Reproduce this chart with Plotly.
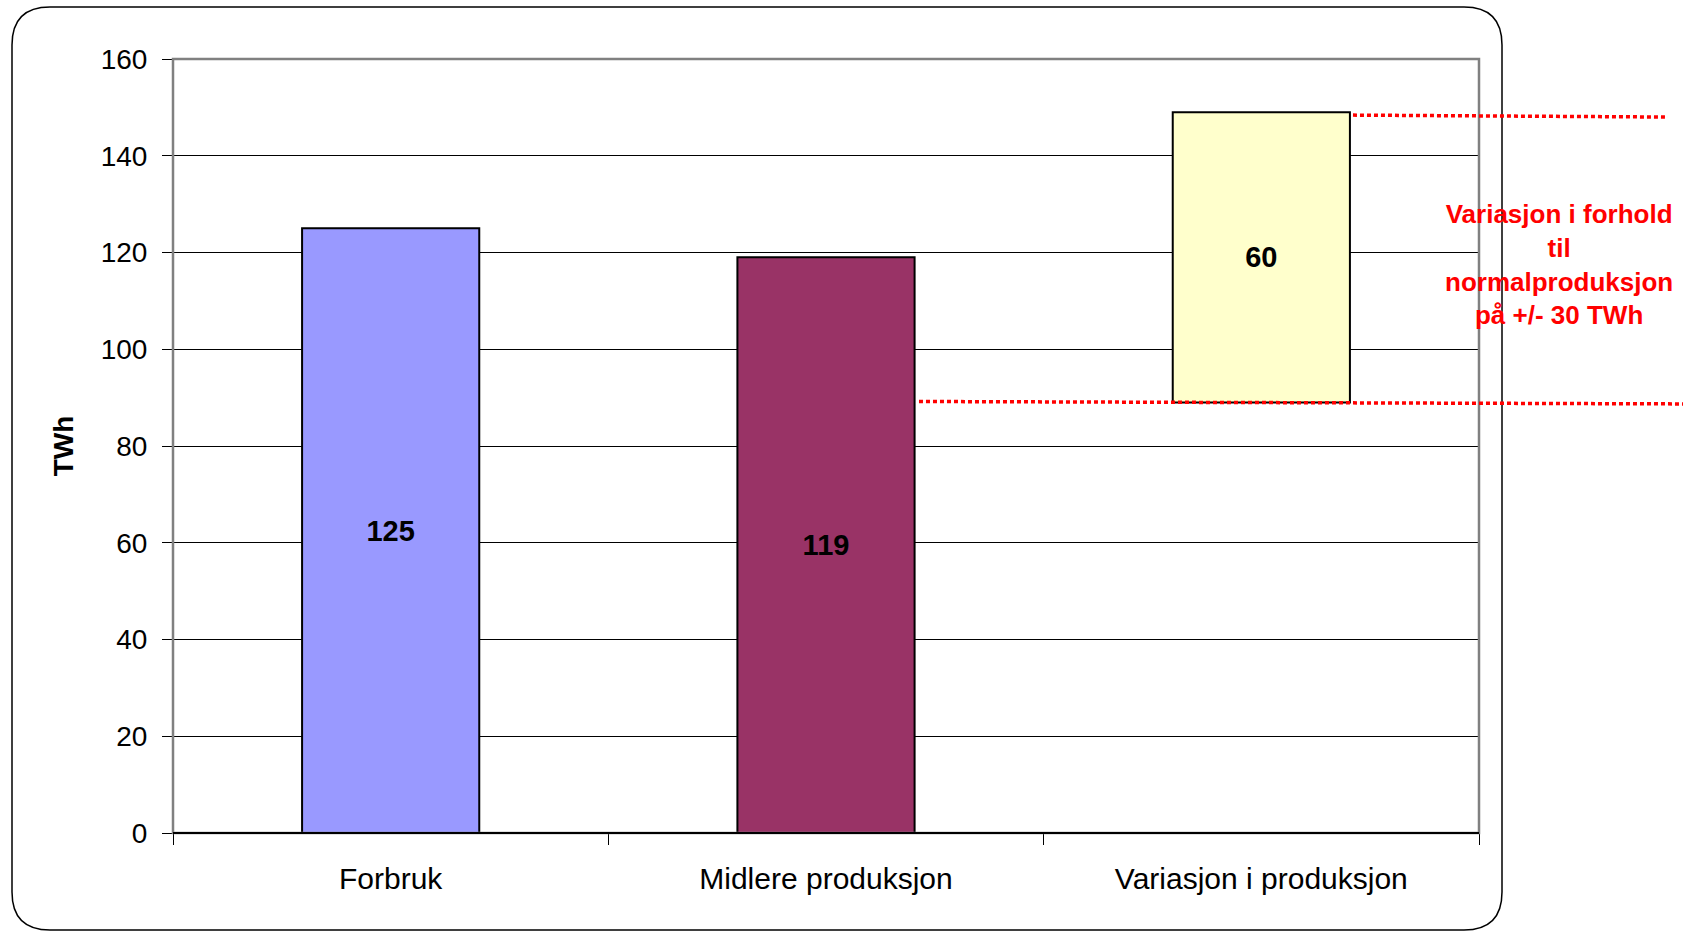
import plotly.graph_objects as go

# ---- data ----
categories = ["Forbruk", "Midlere produksjon", "Variasjon i produksjon"]
bar_heights = [125, 119, 60]
bar_bases = [0, 0, 89]
bar_labels = ["125", "119", "60"]
bar_colors = ["#9999FF", "#993366", "#FFFFCC"]
y_ticks = [0, 20, 40, 60, 80, 100, 120, 140, 160]
band_low = 89
band_high = 149
note_text = "Variasjon i forhold<br>til<br>normalproduksjon<br>på +/- 30 TWh"

FONT = "Liberation Sans, Arial, sans-serif"
W, H = 1694, 931
ML, MR, MT, MB = 173, 215, 59, 98
PW, PH = W - ML - MR, H - MT - MB


def xp(px):
    return (px - ML) / PW


def yp(py):
    return (H - MB - py) / PH


fig = go.Figure()
fig.add_trace(go.Bar(
    x=categories,
    y=bar_heights,
    base=bar_bases,
    width=0.407,
    marker=dict(color=bar_colors, line=dict(color="black", width=2)),
    text=bar_labels,
    texttemplate="<b>%{text}</b>",
    textposition="inside",
    insidetextanchor="middle",
    textangle=0,
    textfont=dict(size=29, color="black", family=FONT),
    showlegend=False,
    hoverinfo="skip",
))

# rounded frame around chart
L, R, T, B, r = 12, 1502, 7, 930, 38
path = (
    f"M {xp(L + r)} {yp(T)} L {xp(R - r)} {yp(T)} "
    f"Q {xp(R)} {yp(T)} {xp(R)} {yp(T + r)} "
    f"L {xp(R)} {yp(B - r)} Q {xp(R)} {yp(B)} {xp(R - r)} {yp(B)} "
    f"L {xp(L + r)} {yp(B)} Q {xp(L)} {yp(B)} {xp(L)} {yp(B - r)} "
    f"L {xp(L)} {yp(T + r)} Q {xp(L)} {yp(T)} {xp(L + r)} {yp(T)} Z"
)
shapes = [
    dict(type="path", path=path, xref="paper", yref="paper",
         line=dict(color="black", width=1.5), fillcolor="rgba(0,0,0,0)", layer="below"),
    # plot area border (gray)
    dict(type="rect", xref="paper", yref="paper", x0=0, x1=1, y0=0, y1=1,
         line=dict(color="#808080", width=2.5), fillcolor="rgba(0,0,0,0)", layer="above"),
    # bottom axis line (black)
    dict(type="line", xref="paper", yref="paper", x0=0, x1=1, y0=0, y1=0,
         line=dict(color="black", width=2), layer="above"),
    # red dotted band lines
    dict(type="line", xref="paper", yref="y", x0=0.9035, x1=1.1447,
         y0=band_high - 0.6, y1=band_high - 1.0,
         line=dict(color="#FF0000", width=3.5, dash="4px,3px"), layer="above"),
    dict(type="line", xref="paper", yref="y", x0=0.5712, x1=1.1562,
         y0=band_low + 0.2, y1=band_low - 0.3,
         line=dict(color="#FF0000", width=3.5, dash="4px,3px"), layer="above"),
]

fig.update_layout(
    width=W, height=H,
    margin=dict(l=ML, r=MR, t=MT, b=MB, pad=0),
    paper_bgcolor="white",
    plot_bgcolor="white",
    font=dict(family=FONT, color="black"),
    bargap=0.593,
    shapes=shapes,
    annotations=[dict(
        text=f"<b>{note_text}</b>", xref="paper", yref="y",
        x=xp(1559), y=117.5, xanchor="center", yanchor="middle",
        showarrow=False, align="center",
        font=dict(size=26, color="#FF0000", family=FONT),
    )],
)

fig.update_xaxes(
    type="category",
    showgrid=False,
    showline=False,
    ticks="outside",
    tickson="boundaries",
    ticklen=11,
    tickwidth=1,
    tickcolor="black",
    tickfont=dict(size=30, color="black", family=FONT),
    ticklabelstandoff=25,
)
fig.update_yaxes(
    range=[0, 160],
    tickvals=y_ticks,
    showgrid=True,
    gridcolor="black",
    gridwidth=1,
    zeroline=False,
    showline=False,
    ticks="outside",
    ticklen=10,
    tickwidth=1,
    tickcolor="black",
    tickfont=dict(size=28, color="black", family=FONT),
    ticklabelstandoff=9,
    title=dict(text="<b>TWh</b>", font=dict(size=28, color="black", family=FONT), standoff=18),
)

fig.write_html(
    "out.html",
    config={"displayModeBar": False},
    post_script="document.body.style.margin='0';document.body.style.overflow='hidden';",
)
